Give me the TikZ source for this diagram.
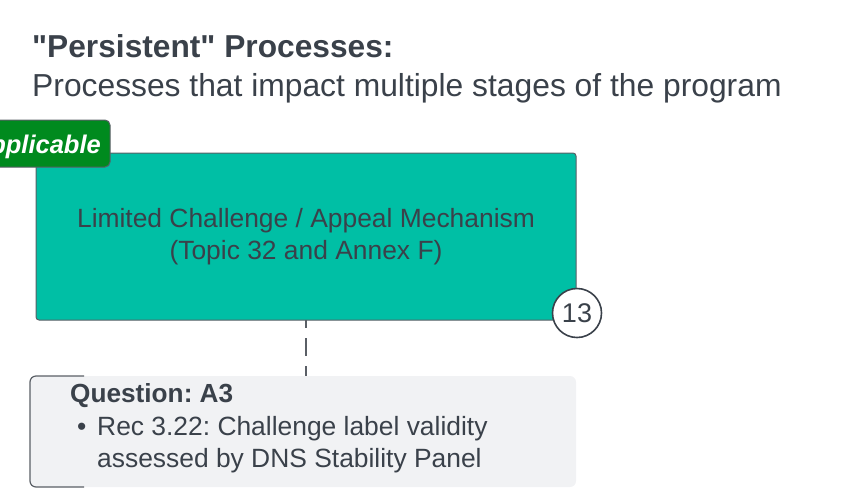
\documentclass[tikz,border=0pt]{standalone}
\usepackage{fontspec}
\setmainfont{Liberation Sans}
\usepackage{xcolor}
\usepackage{tikz}
\usetikzlibrary{positioning}

\definecolor{inkgray}{HTML}{3A414A}
\definecolor{linegray}{HTML}{5A5F66}
\definecolor{tealfill}{HTML}{00BFA5}
\definecolor{tagfill}{HTML}{008A1E}
\definecolor{notefill}{HTML}{F1F2F4}

\tikzset{
  procbox/.style={draw=linegray, line width=1pt, fill=tealfill, rounded corners=3pt},
  tagbox/.style={draw=linegray, line width=1pt, fill=tagfill, rounded corners=5pt},
  notebox/.style={fill=notefill, rounded corners=6pt},
  numcirc/.style={circle, draw=inkgray, line width=1.6pt, fill=white, minimum size=49pt, inner sep=0pt, text=inkgray, font=\fontsize{27}{30}\selectfont},
  txt/.style={text=inkgray, inner sep=0pt, font=\fontsize{26.4}{32}\selectfont},
  link/.style={draw=linegray, line width=1.2pt, dash pattern=on 18pt off 10pt, dash phase=10pt}
}

\begin{document}
\frenchspacing
\begin{tikzpicture}[x=1pt,y=-1pt]
\useasboundingbox (0,0) rectangle (842,501);

\node[txt, anchor=base west, font=\fontsize{31.7}{36}\selectfont\bfseries] (title) at (32,57) {\textquotedbl Persistent\textquotedbl{} Processes:};
\node[txt, anchor=base west, font=\fontsize{31.8}{36}\selectfont] (subtitle) at (32,96) {Processes that impact multiple stages of the program};

\path[procbox] (36,153) rectangle (576,320);
\coordinate (procS) at (306,320);
\node[txt, align=center] (proc) at (306,237) {Limited Challenge / Appeal Mechanism\\(Topic 32 and Annex F)};

\path[tagbox] (-20,120) rectangle (110,167);
\node[inner sep=0pt, anchor=base east, text=white, font=\fontsize{25.5}{28}\selectfont\bfseries\itshape] (tag) at (101,153) {Applicable};

\node[numcirc] (num) at (577,313) {13};

\path[notebox] (30,376) rectangle (576,487);
\coordinate (noteN) at (306,376);
\draw[linegray, line width=1.2pt, rounded corners=6pt] (84,376) -- (30,376) -- (30,487) -- (84,487);
\node[txt, anchor=base west, font=\fontsize{26.2}{30}\selectfont\bfseries] (q) at (70,402) {Question: A3};
\node[txt, anchor=base west] (bul) at (77,435) {•};
\node[txt, anchor=base west] (rec1) at (97,435) {Rec 3.22: Challenge label validity};
\node[txt, anchor=base west] (rec2) at (97,467) {assessed by DNS Stability Panel};

\draw[link] (procS) -- (noteN);
\end{tikzpicture}
\end{document}
